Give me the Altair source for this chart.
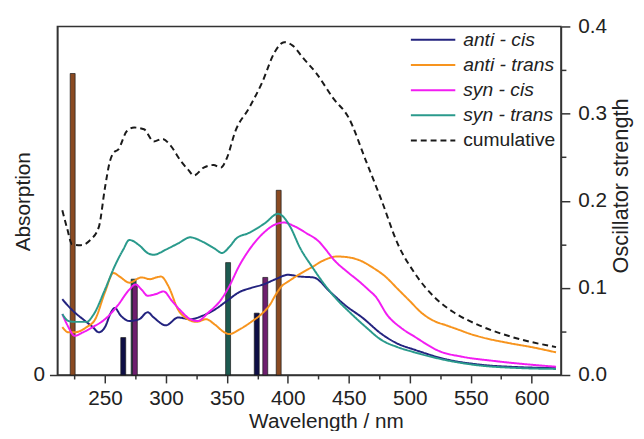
import altair as alt
import pandas as pd

# ---------------- data ----------------
series_names = ["anti - cis", "anti - trans", "syn - cis", "syn - trans", "cumulative"]

anti_cis_wl = [215, 220, 225, 232, 240, 245, 250, 255, 258, 263, 270, 278, 285, 290, 300, 310, 320, 330, 340,
               350, 360, 370, 380, 390, 400, 410, 421, 435, 448, 461, 477, 490, 504, 530, 557, 590, 620]
anti_cis_abs = [0.087, 0.079, 0.072, 0.064, 0.055, 0.049, 0.055, 0.072, 0.077, 0.068, 0.062, 0.064, 0.072, 0.066,
                0.057, 0.066, 0.064, 0.068, 0.075, 0.085, 0.095, 0.100, 0.104, 0.110, 0.115, 0.113, 0.112, 0.095,
                0.079, 0.066, 0.047, 0.036, 0.029, 0.018, 0.012, 0.009, 0.008]

anti_trans_wl = [215, 220, 225, 235, 242, 250, 257, 262, 270, 280, 287, 292, 296, 302, 310, 318, 325, 333, 340, 348,
                 352, 360, 370, 380, 385, 390, 395, 400, 410, 420, 430, 440, 450, 460, 470, 480, 490, 500, 510, 520,
                 530, 540, 550, 560, 580, 600, 620]
anti_trans_abs = [0.055, 0.049, 0.049, 0.055, 0.064, 0.095, 0.117, 0.113, 0.106, 0.112, 0.110, 0.112, 0.113, 0.102,
                  0.075, 0.064, 0.061, 0.064, 0.058, 0.049, 0.047, 0.052, 0.061, 0.072, 0.080, 0.092, 0.102, 0.107,
                  0.116, 0.124, 0.132, 0.136, 0.135, 0.131, 0.123, 0.113, 0.099, 0.085, 0.071, 0.062, 0.057, 0.052,
                  0.047, 0.043, 0.037, 0.032, 0.026]

syn_cis_wl = [215, 220, 225, 232, 240, 250, 260, 270, 275, 280, 285, 292, 298, 305, 312, 320, 326, 335, 345, 352,
              360, 370, 380, 390, 397, 405, 415, 424, 440, 450, 458, 466, 472, 482, 493, 504, 525, 543, 570, 620]
syn_cis_abs = [0.070, 0.055, 0.045, 0.049, 0.055, 0.064, 0.079, 0.098, 0.104, 0.098, 0.091, 0.093, 0.096, 0.085,
               0.074, 0.064, 0.062, 0.072, 0.086, 0.102, 0.125, 0.147, 0.163, 0.173, 0.175, 0.171, 0.163, 0.155,
               0.129, 0.117, 0.108, 0.098, 0.090, 0.068, 0.054, 0.044, 0.027, 0.021, 0.016, 0.0095]

syn_trans_wl = [215, 220, 225, 235, 240, 250, 258, 265, 270, 278, 285, 290, 300, 310, 320, 330, 340, 346, 352, 358,
                368, 381, 392, 396, 402, 410, 420, 430, 440, 450, 464, 477, 490, 504, 530, 557, 590, 620]
syn_trans_abs = [0.070, 0.062, 0.061, 0.061, 0.068, 0.098, 0.125, 0.144, 0.155, 0.149, 0.140, 0.138, 0.144, 0.151,
                 0.158, 0.153, 0.145, 0.140, 0.147, 0.157, 0.163, 0.174, 0.185, 0.182, 0.170, 0.146, 0.124, 0.104,
                 0.087, 0.073, 0.055, 0.040, 0.032, 0.026, 0.017, 0.011, 0.008, 0.007]

cumulative_wl = [215, 219, 223, 230, 238, 245, 250, 254, 257, 261, 268, 274, 282, 290, 297, 304, 312, 318, 323, 331,
                 339, 345, 350, 357, 368, 379, 389, 397, 404, 413, 423, 437, 450, 464, 477, 490, 504, 522, 536, 557,
                 583, 620]
cumulative_abs = [0.189, 0.168, 0.150, 0.149, 0.155, 0.170, 0.215, 0.245, 0.255, 0.259, 0.280, 0.284, 0.282, 0.268,
                  0.271, 0.263, 0.246, 0.236, 0.229, 0.238, 0.241, 0.238, 0.249, 0.280, 0.306, 0.336, 0.370, 0.382,
                  0.378, 0.363, 0.347, 0.318, 0.295, 0.246, 0.200, 0.151, 0.117, 0.087, 0.072, 0.057, 0.044, 0.032]

# oscillator strengths (sticks)
stick_wl = [223.5, 265, 273.5, 274.5, 351, 374.5, 381.5, 392.5]
stick_f = [0.346, 0.043, 0.110, 0.104, 0.129, 0.071, 0.112, 0.212]
stick_series = ["anti - trans", "anti - cis", "syn - trans", "syn - cis", "syn - trans", "anti - cis", "syn - cis",
                "anti - trans"]

x_ticks = list(range(225, 601, 25))
right_ticks = [round(i * 0.05, 2) for i in range(9)]

# ---------------- styling ----------------
FONT = "Liberation Sans"
line_colors = ["#23237f", "#f7941e", "#f21cf2", "#2a9a8c", "#1a1a1a"]
line_dash = [[1, 0], [1, 0], [1, 0], [1, 0], [6, 4]]
stick_domain = ["anti - cis", "anti - trans", "syn - cis", "syn - trans"]
stick_colors = ["#0e0e45", "#8a4a22", "#6e1f6e", "#1d5a50"]

rows = []
for name, wl, ab in [("anti - cis", anti_cis_wl, anti_cis_abs),
                     ("anti - trans", anti_trans_wl, anti_trans_abs),
                     ("syn - cis", syn_cis_wl, syn_cis_abs),
                     ("syn - trans", syn_trans_wl, syn_trans_abs),
                     ("cumulative", cumulative_wl, cumulative_abs)]:
    for w, a in zip(wl, ab):
        rows.append({"wl": w, "abs": a, "series": name})
curves = pd.DataFrame(rows)
sticks = pd.DataFrame({"wl": stick_wl, "f": stick_f, "series": stick_series})

xscale = alt.Scale(domain=[215, 620], nice=False, zero=False)

x_axis = alt.Axis(
    values=x_ticks,
    labelExpr="datum.value % 50 === 0 ? datum.label : ''",
    tickSize={"condition": {"test": "datum.value % 50 === 0", "value": 8}, "value": 4},
    title="Wavelength / nm",
    titleX=272, titleY=53.5, titleAlign="center", titleBaseline="alphabetic",
    labelPadding=5, grid=False, format="d",
)

left_axis = alt.Axis(
    orient="left", values=[0], format=".0f", title="Absorption",
    titleX=-34, titleY=177, titleAngle=270, titleAlign="center", titleBaseline="middle",
    tickSize=8, labelPadding=5, grid=False,
)

right_axis = alt.Axis(
    orient="right", values=right_ticks,
    labelExpr="round(datum.value * 100) % 10 === 0 ? format(datum.value, '.1f') : ''",
    tickSize={"condition": {"test": "round(datum.value * 100) % 10 === 0", "value": 9}, "value": 5},
    title="Oscillator strength", titleFontSize=22,
    titleX=67.5, titleY=161, titleAngle=270, titleAlign="center", titleBaseline="alphabetic",
    labelPadding=8, grid=False,
)

bars = alt.Chart(sticks).mark_bar(orient="vertical", size=5, stroke="#1a1a1a", strokeWidth=0.7).encode(
    x=alt.X("wl:Q", scale=xscale, axis=x_axis),
    y=alt.Y("f:Q", scale=alt.Scale(domain=[0, 0.4], nice=False), axis=right_axis),
    fill=alt.Fill("series:N", scale=alt.Scale(domain=stick_domain, range=stick_colors), legend=None),
)

legend = alt.Legend(
    orient="none", legendX=357, legendY=4, title=None,
    symbolType="stroke", symbolSize=2025, symbolStrokeWidth=2,
    labelFont=FONT, labelFontSize=19.5, labelColor="#222", labelOffset=7,
    rowPadding=5.5, clipHeight=19, padding=0,
    labelFontStyle={"expr": "datum.label === 'cumulative' ? 'normal' : 'italic'"},
)

lines = alt.Chart(curves).mark_line(strokeWidth=2, interpolate="monotone").encode(
    x=alt.X("wl:Q", scale=xscale, axis=x_axis),
    y=alt.Y("abs:Q", scale=alt.Scale(domain=[0, 0.4], nice=False), axis=left_axis),
    color=alt.Color("series:N", scale=alt.Scale(domain=series_names, range=line_colors), legend=legend),
    strokeDash=alt.StrokeDash("series:N", scale=alt.Scale(domain=series_names, range=line_dash), legend=legend),
    order=alt.Order("wl:Q"),
)

chart = alt.layer(bars, lines).resolve_scale(y="independent").properties(
    width=510, height=353,
    autosize=alt.AutoSizeParams(type="none"),
    padding={"left": 50, "top": 16, "right": 76, "bottom": 54},
).configure_axis(
    labelFont=FONT, titleFont=FONT, labelFontSize=21, titleFontSize=21, titleFontWeight="normal",
    labelColor="#222", titleColor="#222", domainColor="#333", tickColor="#333",
    domainWidth=1.5, tickWidth=1.5,
).configure_view(stroke="#333", strokeWidth=1.5)

chart.save("out.html", embed_options={"renderer": "svg", "actions": False})
